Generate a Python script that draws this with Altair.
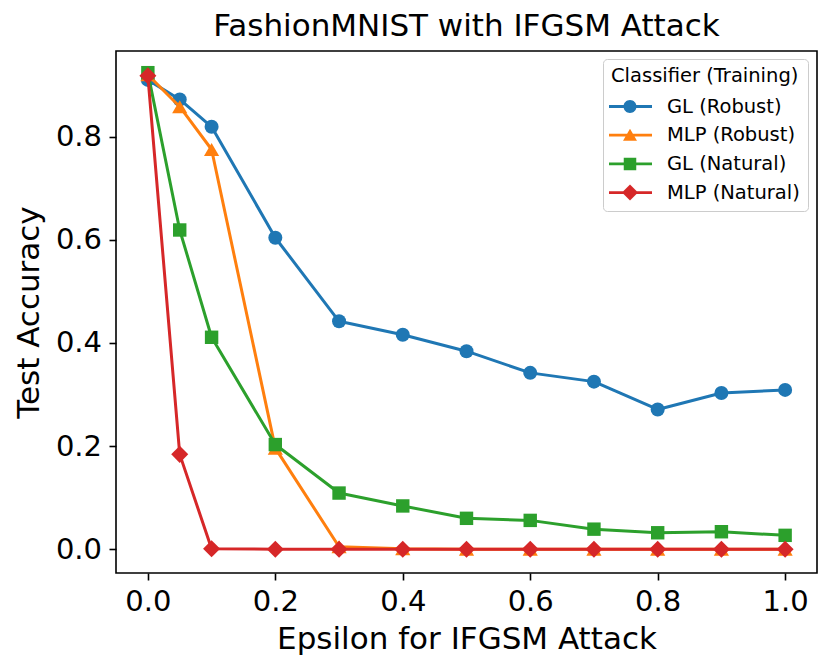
import altair as alt
import pandas as pd

eps = [0.0, 0.05, 0.1, 0.2, 0.3, 0.4, 0.5, 0.6, 0.7, 0.8, 0.9, 1.0]
gl_robust = [0.910, 0.872, 0.819, 0.604, 0.442, 0.416, 0.384, 0.342, 0.325, 0.271, 0.303, 0.309]
mlp_robust = [0.920, 0.858, 0.775, 0.196, 0.005, 0.001, 0.0, 0.0, 0.0, 0.0, 0.0, 0.0]
gl_natural = [0.924, 0.619, 0.411, 0.203, 0.109, 0.084, 0.060, 0.056, 0.039, 0.032, 0.034, 0.027]
mlp_natural = [0.918, 0.184, 0.001, 0.0, 0.0, 0.0, 0.0, 0.0, 0.0, 0.0, 0.0, 0.0]

series_names = ["GL (Robust)", "MLP (Robust)", "GL (Natural)", "MLP (Natural)"]
colors = ["#1f77b4", "#ff7f0e", "#2ca02c", "#d62728"]
marker_shapes = ["circle", "triangle-up", "square", "diamond"]
marker_sizes = [196, 230, 180, 290]

x_ticks = [0.0, 0.2, 0.4, 0.6, 0.8, 1.0]
y_ticks = [0.0, 0.2, 0.4, 0.6, 0.8]

# legend symbols: line segment + marker (custom symbol paths)
line_seg = "M-1.2,-0.14H3.1V0.14H-1.2Z"
legend_paths = [
    line_seg + "M0.25,0A0.65,0.65 0 1,1 1.55,0A0.65,0.65 0 1,1 0.25,0Z",
    line_seg + "M0.9,-0.65L1.6,0.55L0.2,0.55Z",
    line_seg + "M0.275,-0.625H1.525V0.625H0.275Z",
    line_seg + "M0.9,-0.8L1.7,0L0.9,0.8L0.1,0Z",
]

rows = []
for name, vals in zip(series_names, [gl_robust, mlp_robust, gl_natural, mlp_natural]):
    for e, v in zip(eps, vals):
        rows.append({"eps": e, "acc": v, "series": name})
df = pd.DataFrame(rows)

x = alt.X(
    "eps:Q",
    scale=alt.Scale(domain=[-0.05, 1.05], nice=False, zero=False),
    axis=alt.Axis(title="Epsilon for IFGSM Attack", values=x_ticks, format=".1f",
                  titleY=75, titleBaseline="alphabetic"),
)
y = alt.Y(
    "acc:Q",
    scale=alt.Scale(domain=[-0.046, 0.966], nice=False, zero=False),
    axis=alt.Axis(title="Test Accuracy", values=y_ticks, format=".1f",
                  titleX=-78, titleBaseline="alphabetic"),
)
color_scale = alt.Scale(domain=series_names, range=colors)

base = alt.Chart(df)
layers = []
for name, col, shp, sz in zip(series_names, colors, marker_shapes, marker_sizes):
    sub = base.transform_filter(alt.datum.series == name)
    layers.append(
        sub.mark_line(strokeWidth=3, strokeJoin="round", color=col).encode(x=x, y=y)
    )
    layers.append(
        sub.mark_point(filled=True, opacity=1, shape=shp, size=sz, color=col).encode(x=x, y=y)
    )

legend_props = dict(
    orient="none", legendX=487, legendY=8, padding=8,
    strokeColor="#cccccc", fillColor="rgba(255,255,255,0.8)", cornerRadius=4,
    titleFontSize=19.5, titleFontWeight="normal", titleColor="black", titleFont="DejaVu Sans",
    titleLimit=400, labelLimit=400,
    titlePadding=10, labelFontSize=19.5, labelColor="black", labelFont="DejaVu Sans",
    labelOffset=36, symbolSize=400, symbolStrokeWidth=0, rowPadding=8.7,
)
legend_layer = base.transform_filter("false").mark_point(filled=True, opacity=1).encode(
    x=x, y=y,
    color=alt.Color("series:N", scale=color_scale, title="Classifier (Training)",
                    legend=alt.Legend(**legend_props)),
    shape=alt.Shape("series:N", scale=alt.Scale(domain=series_names, range=legend_paths),
                    title="Classifier (Training)", legend=alt.Legend(**legend_props)),
)
layers.append(legend_layer)

chart = alt.layer(*layers).properties(
    width=701,
    height=522,
    title=alt.TitleParams("FashionMNIST with IFGSM Attack", fontSize=31, font="DejaVu Sans",
                          fontWeight="normal", color="black", anchor="middle", offset=8),
    padding={"left": 108, "top": 43, "right": 4, "bottom": 92},
    autosize=alt.AutoSizeParams(type="none"),
).configure_view(
    stroke="black", strokeWidth=1.6
).configure_axis(
    grid=False, domain=False, tickColor="black", tickWidth=1.6, tickSize=7,
    labelFontSize=29, titleFontSize=31, labelColor="black", titleColor="black",
    labelFont="DejaVu Sans", titleFont="DejaVu Sans", titleFontWeight="normal",
    labelPadding=7.5, labelFlush=False,
)

chart.save("out.html", embed_options={"renderer": "svg", "actions": False})
